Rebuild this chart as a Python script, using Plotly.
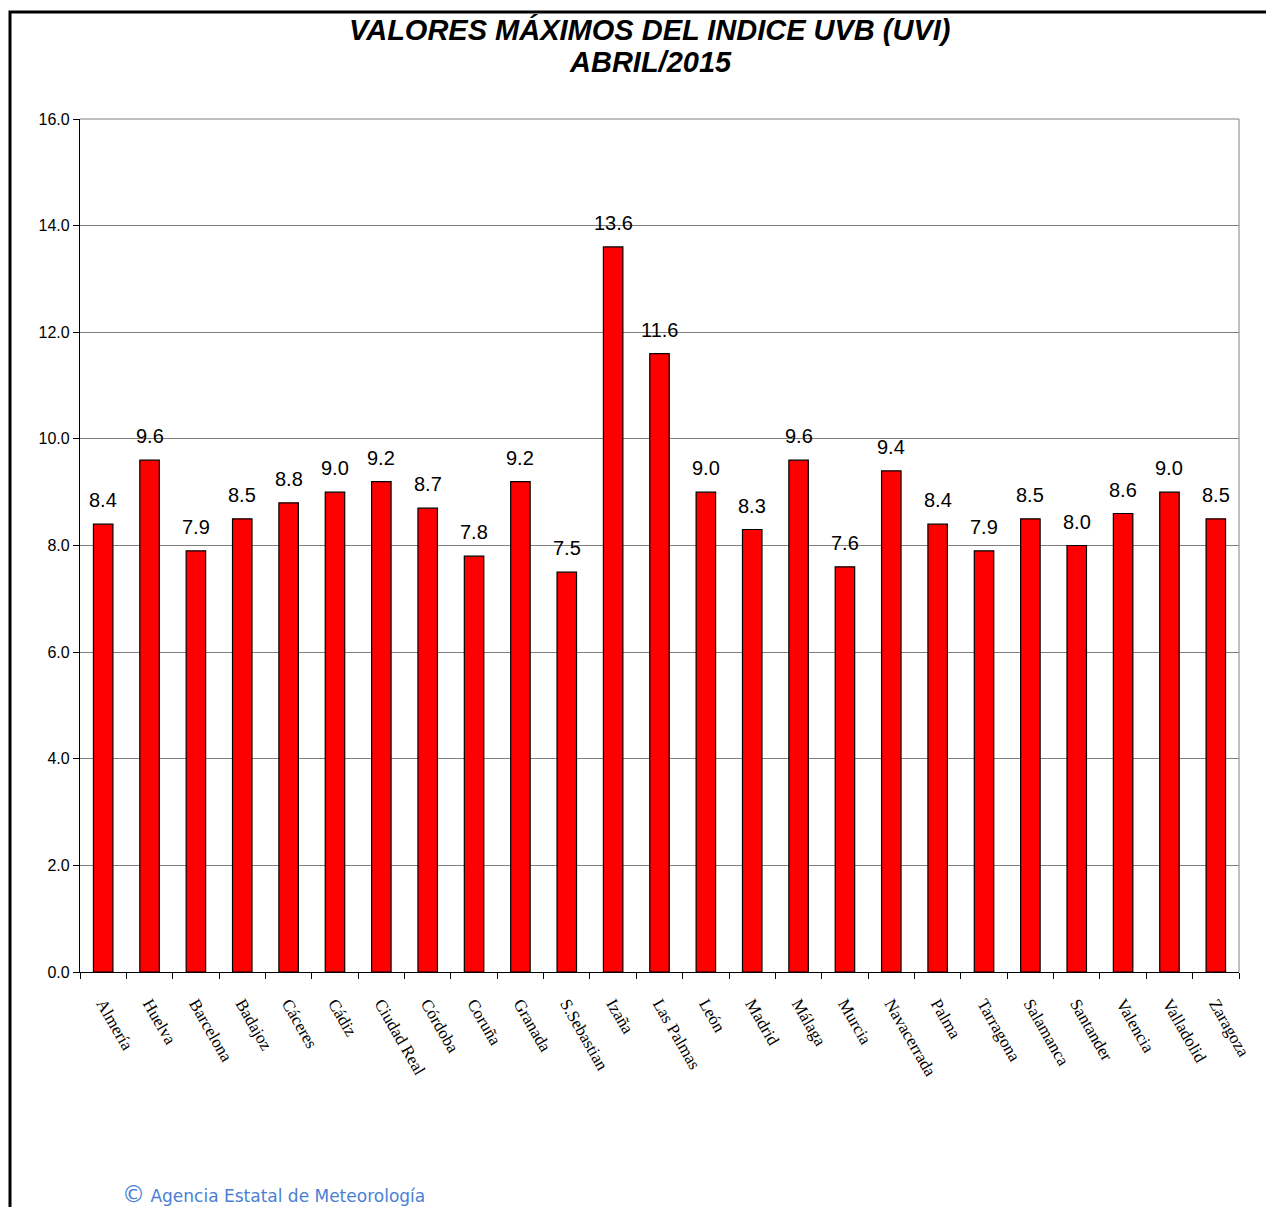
import plotly.graph_objects as go

cities = ["Almería", "Huelva", "Barcelona", "Badajoz", "Cáceres", "Cádiz", "Ciudad Real",
          "Córdoba", "Coruña", "Granada", "S.Sebastian", "Izaña", "Las Palmas", "León",
          "Madrid", "Málaga", "Murcia", "Navacerrada", "Palma", "Tarragona", "Salamanca",
          "Santander", "Valencia", "Valladolid", "Zaragoza"]
uvi = [8.4, 9.6, 7.9, 8.5, 8.8, 9.0, 9.2, 8.7, 7.8, 9.2, 7.5, 13.6, 11.6, 9.0,
       8.3, 9.6, 7.6, 9.4, 8.4, 7.9, 8.5, 8.0, 8.6, 9.0, 8.5]
y_ticks = [0, 2, 4, 6, 8, 10, 12, 14, 16]
title_lines = ["VALORES MÁXIMOS DEL INDICE UVB (UVI)", "ABRIL/2015"]

# page has an 8px body margin; figure is sized to fit the 1274x1207 window
W, H = 1266, 1199
L, R, T, B = 72, 35, 111, 235
PW, PH = W - L - R, H - T - B

fig = go.Figure()
fig.add_trace(go.Bar(
    x=cities, y=uvi,
    marker=dict(color="#ff0000", line=dict(color="#000000", width=1.2)),
    width=0.42,
    hoverinfo="x+y",
))

for c, v in zip(cities, uvi):
    fig.add_annotation(x=c, y=v, text=f"{v:.1f}", showarrow=False,
                       yanchor="bottom", yshift=11,
                       font=dict(family="Liberation Sans Narrow, Arial Narrow, Liberation Sans",
                                 size=20, color="#000000"))

fig.update_layout(
    width=W, height=H,
    paper_bgcolor="white", plot_bgcolor="white",
    margin=dict(l=L, r=R, t=T, b=B),
    showlegend=False,
    xaxis=dict(
        type="category",
        tickangle=60,
        ticks="outside", ticklen=6, tickcolor="#000000", tickson="boundaries",
        showline=True, linecolor="#000000", linewidth=1.2,
        showgrid=False,
        ticklabelstandoff=14,
        tickfont=dict(family="Liberation Serif, Times New Roman", size=17, color="#000000"),
    ),
    yaxis=dict(
        range=[0, 16],
        tickvals=y_ticks,
        ticktext=[f"{t:.1f}" for t in y_ticks],
        ticks="outside", ticklen=6, tickcolor="#000000",
        showline=True, linecolor="#000000", linewidth=1.2,
        showgrid=True, gridcolor="#808080", gridwidth=1,
        zeroline=False,
        tickfont=dict(family="Liberation Sans Narrow, Arial Narrow, Liberation Sans", size=16, color="#000000"),
    ),
)

# title (two lines)
for i, line in enumerate(title_lines):
    fig.add_annotation(
        xref="paper", yref="paper", x=(650 - 80) / PW, y=(972 - (30 + 32 * i)) / PH,
        xanchor="center", yanchor="middle", showarrow=False,
        text=f"<b><i>{line}</i></b>",
        font=dict(family="Liberation Sans, Arial", size=29, color="#000000"),
    )

# top gridline and right edge of plot area (grey)
fig.add_shape(type="line", xref="paper", yref="paper", x0=0, x1=1, y0=1, y1=1,
              line=dict(color="#808080", width=1))
fig.add_shape(type="line", xref="paper", yref="paper", x0=1, x1=1, y0=0, y1=1,
              line=dict(color="#808080", width=1))

# outer chart frame (left and top visible)
fig.add_shape(type="rect", xref="paper", yref="paper",
              x0=(10 - 80) / PW, x1=1.2, y0=-0.5, y1=(972 - 12) / PH,
              line=dict(color="#000000", width=3), layer="above")

fig.add_annotation(
    xref="paper", yref="paper", x=(120 - 80) / PW, y=-(1194 - 972) / PH,
    xanchor="left", yanchor="middle", showarrow=False,
    text="<span style='font-size:23px'>©</span> Agencia Estatal de Meteorología",
    font=dict(family="DejaVu Sans, Verdana", size=17, color="#4a7fd4"),
)

fig.write_html("out.html")
